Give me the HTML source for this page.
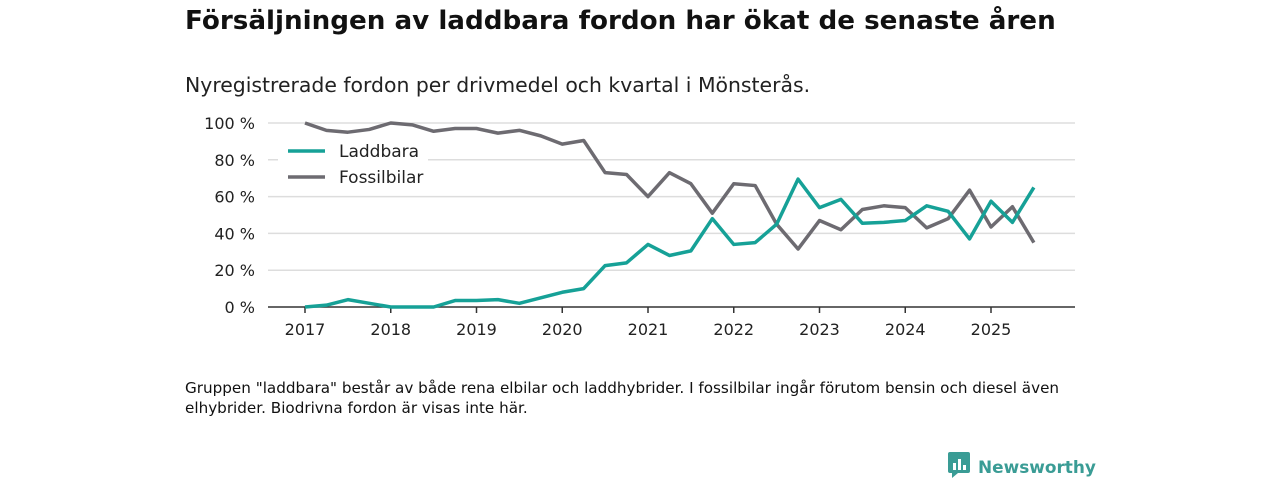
<!DOCTYPE html>
<html><head><meta charset="utf-8"><style>
body{margin:0;width:1280px;height:480px;background:#fff;font-family:"DejaVu Sans","Liberation Sans",sans-serif;overflow:hidden;position:relative}
.t{position:absolute;left:185px;top:6px;font-size:26.2px;font-weight:bold;color:#111}
.s{position:absolute;left:185px;top:73px;font-size:20.4px;color:#222}
.n{position:absolute;left:185px;top:378px;font-size:15.2px;color:#111;line-height:20px;width:900px}
.logo{position:absolute;left:948px;top:452px;font-size:16.9px;font-weight:bold;color:#3a9c95}
</style></head><body>
<div class="t">Försäljningen av laddbara fordon har ökat de senaste åren</div>
<div class="s">Nyregistrerade fordon per drivmedel och kvartal i Mönsterås.</div>
<svg id="c" width="1280" height="480" style="position:absolute;left:0;top:0"></svg>
<div class="n">Gruppen "laddbara" består av både rena elbilar och laddhybrider. I fossilbilar ingår förutom bensin och diesel även elhybrider. Biodrivna fordon är visas inte här.</div>
<div class="logo"><svg width="22" height="26" style="vertical-align:-5px;margin-right:8px"><rect x="0" y="0" width="22" height="21" rx="2" fill="#3a9c95"/><path d="M4 21 L4 26 L10 21Z" fill="#3a9c95"/><rect x="5" y="11" width="3" height="7" fill="#fff"/><rect x="10" y="7" width="3" height="11" fill="#fff"/><rect x="15" y="13" width="3" height="5" fill="#fff"/></svg>Newsworthy</div>
<script>
const years=[2017,2018,2019,2020,2021,2022,2023,2024,2025];
const yTicks=[0,20,40,60,80,100];
const laddbara=[0,1,4,2,0,0,0,3.5,3.5,4,2,5,8,10,22.5,24,34,28,30.5,48,34,35,45,69.5,54,58.5,45.5,46,47,55,52,37,57.5,46,65];
const fossil=[100,96,95,96.5,100,99,95.5,97,97,94.5,96,93,88.5,90.5,73,72,60,73,67,51,67,66,45,31.5,47,42,53,55,54,43,48,63.5,43.5,54.5,35];
const svg=document.getElementById('c');const NS='http://www.w3.org/2000/svg';
const X=t=>305+(t-2017)*85.75, Y=v=>307-v*1.84;
function mk(tag,a,txt){const e=document.createElementNS(NS,tag);for(const k in a)e.setAttribute(k,a[k]);if(txt!=null)e.textContent=txt;svg.appendChild(e);return e;}
yTicks.forEach(v=>{
 if(v>0){const g=mk('line',{x1:268,x2:1075,y1:Y(v),y2:Y(v),stroke:'#ddd','stroke-width':1.5});}
 const t=mk('text',{x:255,y:Y(v)+6,'text-anchor':'end','font-size':16,fill:'#222','font-family':'DejaVu Sans,sans-serif'},v+' %');
 
});
const ax=mk('line',{x1:268,x2:1075,y1:307,y2:307,stroke:'#333','stroke-width':1.5});

years.forEach(y=>{
 const k=mk('line',{x1:X(y),x2:X(y),y1:307,y2:313,stroke:'#333','stroke-width':1.5});
 const t=mk('text',{x:X(y),y:335,'text-anchor':'middle','font-size':16,fill:'#222','font-family':'DejaVu Sans,sans-serif'},y);
 
});
function line(d,c,n){const p=d.map((v,i)=>X(2017+i/4)+','+Y(v)).join(' ');const e=mk('polyline',{points:p,fill:'none',stroke:c,'stroke-width':3.5,'stroke-linejoin':'round'});}
line(fossil,'#6d6b71','line-fossilbilar');
line(laddbara,'#16a197','line-laddbara');
mk('rect',{x:278,y:136,width:150,height:56,fill:'#fff'});
[['Laddbara','#16a197',151],['Fossilbilar','#6d6b71',177]].forEach(([n,c,y])=>{
 const l=mk('line',{x1:288,x2:325,y1:y,y2:y,stroke:c,'stroke-width':3.5});
 const t=mk('text',{x:339,y:y+6,'font-size':17,fill:'#222','font-family':'DejaVu Sans,sans-serif'},n);
});
</script>
</body></html>
